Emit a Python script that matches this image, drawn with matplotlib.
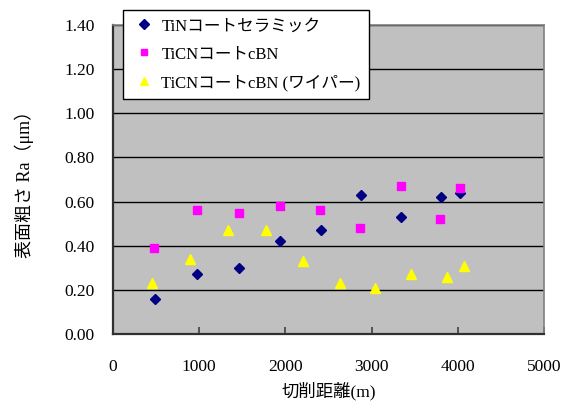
import matplotlib
matplotlib.use("Agg")
import matplotlib.pyplot as plt

plt.rcParams['font.family'] = ['Liberation Serif', 'Noto Sans CJK JP']

# 切削距離 (m) と 表面粗さ Ra (μm)
tin_dist = [490, 980, 1460, 1940, 2410, 2880, 3340, 3800, 4030]
tin_ra = [0.16, 0.27, 0.30, 0.42, 0.47, 0.63, 0.53, 0.62, 0.64]

ticn_dist = [480, 970, 1460, 1940, 2400, 2870, 3340, 3790, 4020]
ticn_ra = [0.39, 0.56, 0.55, 0.58, 0.56, 0.48, 0.67, 0.52, 0.66]

wiper_dist = [450, 890, 1330, 1770, 2200, 2630, 3040, 3460, 3880, 4070]
wiper_ra = [0.23, 0.34, 0.47, 0.47, 0.33, 0.23, 0.21, 0.27, 0.26, 0.31]

series_names = ["TiNコートセラミック", "TiCNコートcBN", "TiCNコートcBN (ワイパー)"]
x_ticks = [0, 1000, 2000, 3000, 4000, 5000]
y_ticks = [0.0, 0.2, 0.4, 0.6, 0.8, 1.0, 1.2, 1.4]

fig = plt.figure(figsize=(5.71, 4.08), dpi=100)
ax = fig.add_axes([113 / 571, 1 - 334 / 408, 431 / 571, 309 / 408])
ax.set_facecolor("#C0C0C0")

ax.plot(tin_dist, tin_ra, linestyle="none", marker="D", markersize=5.5,
        color="#000080", label=series_names[0], clip_on=False, zorder=3)
ax.plot(ticn_dist, ticn_ra, linestyle="none", marker="s", markersize=5.5,
        color="#FF00FF", label=series_names[1], clip_on=False, zorder=3)
ax.plot(wiper_dist, wiper_ra, linestyle="none", marker="^", markersize=7.5,
        color="#FFFF00", label=series_names[2], clip_on=False, zorder=3)

ax.set_xlim(0, 5000)
ax.set_ylim(0, 1.4)
ax.set_xticks(x_ticks)
ax.set_yticks(y_ticks)
ax.set_xticklabels([str(v) for v in x_ticks])
ax.set_yticklabels([f"{v:.2f}" for v in y_ticks])
ax.tick_params(axis="x", direction="in", length=5, width=1.2, color="#404040",
               labelsize=12.5, pad=18)
ax.tick_params(axis="y", direction="in", length=0, labelsize=12.5, pad=13)

ax.yaxis.grid(True, color="black", linewidth=1.0)
ax.set_axisbelow(True)

for side in ("left", "bottom"):
    ax.spines[side].set_color("#303030")
    ax.spines[side].set_linewidth(1.6)
for side in ("top", "right"):
    ax.spines[side].set_color("#808080")
    ax.spines[side].set_linewidth(1.2)

ax.set_xlabel("切削距離(m)", fontsize=12.5, labelpad=5)
ax.set_ylabel("表面粗さ Ra（μm）", fontsize=13, labelpad=22)

leg = fig.legend(loc="upper left", bbox_to_anchor=(123 / 571, 1 - 10 / 408),
                 borderaxespad=0, frameon=True, fancybox=False, fontsize=12,
                 handletextpad=0.3, borderpad=0.5, labelspacing=0.72,
                 handlelength=1.5, markerscale=0.85)
leg.get_frame().set_edgecolor("black")
leg.get_frame().set_linewidth(1.0)
leg.get_frame().set_facecolor("white")
leg.get_frame().set_alpha(1)

fig.savefig("out.png", dpi=100)
